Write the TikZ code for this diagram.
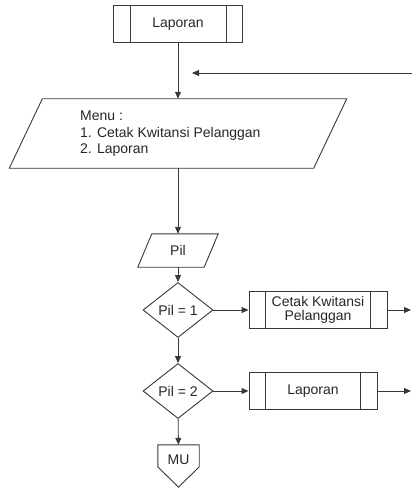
\documentclass[tikz,border=0pt]{standalone}
\usepackage{fontspec}
\setmainfont{Liberation Sans}
\usetikzlibrary{arrows.meta,shapes.geometric,calc}

\begin{document}
\begin{tikzpicture}[x=1pt,y=-1pt,
  ink/.style={draw=black!78, line width=0.9pt},
  flow/.style={ink, -{Triangle[length=7pt,width=6pt]}},
  lbl/.style={font=\fontsize{14}{14}\selectfont, text=black!85},
  subproc/.style={lbl, ink, rectangle, inner sep=0pt, minimum height=37pt, align=center,
    path picture={\draw[black!78, line width=0.9pt]
      ([xshift=16.5pt]path picture bounding box.north west) -- ([xshift=16.5pt]path picture bounding box.south west)
      ([xshift=-16.5pt]path picture bounding box.north east) -- ([xshift=-16.5pt]path picture bounding box.south east);}},
  decision/.style={lbl, diamond, ink, inner sep=0pt, aspect=1.27, minimum width=70pt, minimum height=55pt},
  frame/.style={rectangle, inner sep=0pt},
]
\useasboundingbox (0,0) rectangle (412,489);

% predefined process at the top
\node[subproc, minimum width=129pt] (top) at (178,24) {Laporan};

% menu input parallelogram
\node[frame, minimum width=337pt, minimum height=69pt] (menu) at (178,133.5) {};
\draw[ink] (menu.south west) -- ($(menu.north west)+(33,0)$) -- (menu.north east)
  -- ($(menu.south east)+(-33,0)$) -- cycle;
\node[lbl, anchor=west, align=left, inner sep=0pt,
  font=\fontsize{14}{16.6}\selectfont] (menutxt) at (80,134)
  {Menu :\\1. Cetak Kwitansi Pelanggan\\2. Laporan};

% choice input
\node[frame, minimum width=80pt, minimum height=33pt] (pil) at (178,250.5) {};
\draw[ink] (pil.south west) -- ($(pil.north west)+(14,0)$) -- (pil.north east)
  -- ($(pil.south east)+(-14,0)$) -- cycle;
\node[lbl] (piltxt) at (pil.center) {Pil};

% decisions
\node[decision] (d1) at (178,310) {Pil = 1};
\node[decision] (d2) at (178,391) {Pil = 2};

% sub processes
\node[subproc, minimum width=138pt] (cetak) at (318,310) {Cetak Kwitansi\\Pelanggan};
\node[subproc, minimum width=128pt] (lap) at (313,391) {Laporan};

% off-page connector
\node[frame, minimum width=41pt, minimum height=42pt] (mu) at (178.5,466) {};
\draw[ink] (mu.north west) -- (mu.north east) -- ($(mu.north east)+(0,22)$)
  -- (mu.south) -- ($(mu.north west)+(0,22)$) -- cycle;
\node[lbl] (mutxt) at ($(mu.north)+(0,15)$) {MU};

% loose ends
\coordinate (back) at (412,73);
\coordinate (backend) at (192,73);
\coordinate (out1) at (411,310);
\coordinate (out2) at (411,391);

% connectors
\draw[flow] (top) -- (menu);
\draw[flow] (back) -- (backend);
\draw[flow] (menu) -- (pil);
\draw[flow] (pil) -- (d1);
\draw[flow] (d1) -- (cetak);
\draw[flow] (cetak) -- (out1);
\draw[flow] (d1) -- (d2);
\draw[flow] (d2) -- (lap);
\draw[flow] (lap) -- (out2);
\draw[flow] (d2) -- (mu);
\end{tikzpicture}
\end{document}
